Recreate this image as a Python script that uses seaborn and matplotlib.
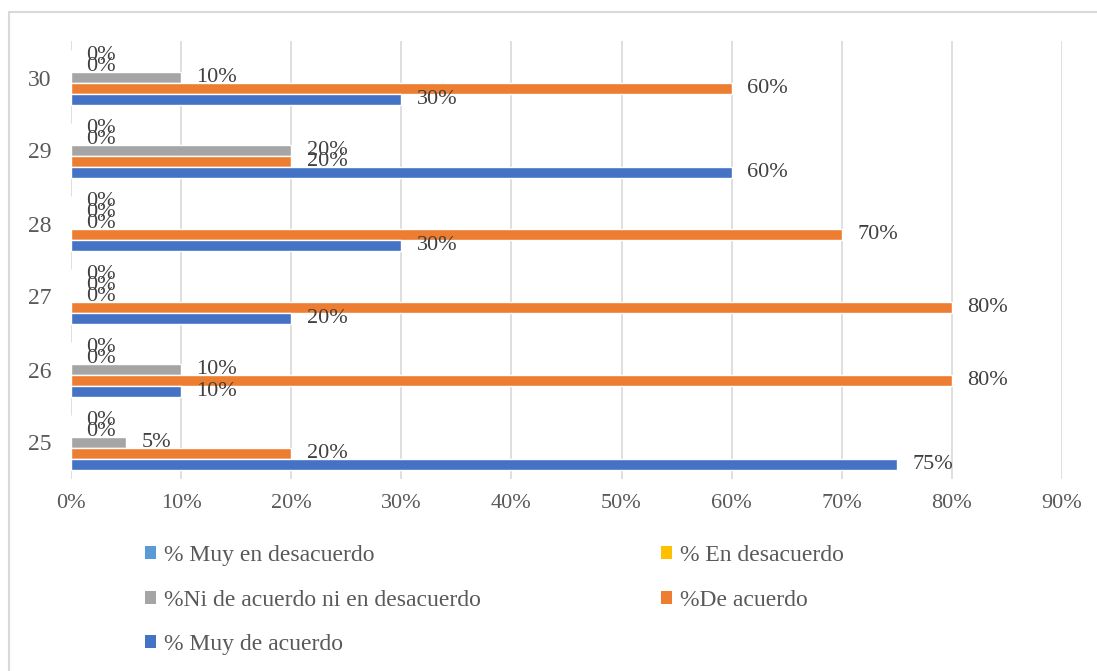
import matplotlib

matplotlib.use("Agg")
import matplotlib.pyplot as plt
import pandas as pd
import seaborn as sns
from matplotlib.patches import Patch, Rectangle

# survey items (y axis) and the share of answers per option, in percent
ITEMS = ["25", "26", "27", "28", "29", "30"]
MUY_EN_DESACUERDO = [0, 0, 0, 0, 0, 0]
EN_DESACUERDO = [0, 0, 0, 0, 0, 0]
NI_DE_ACUERDO = [5, 10, 0, 0, 20, 10]
DE_ACUERDO = [20, 80, 80, 70, 20, 60]
MUY_DE_ACUERDO = [75, 10, 20, 30, 60, 30]

SERIES = [
    "% Muy en desacuerdo",
    "% En desacuerdo",
    "%Ni de acuerdo ni en desacuerdo",
    "%De acuerdo",
    "% Muy de acuerdo",
]
COLORS = ["#5B9BD5", "#FFC000", "#A5A5A5", "#ED7D31", "#4472C4"]
X_TICKS = list(range(0, 91, 10))

TEXT_COLOR = "#595959"
GRID_COLOR = "#D9D9D9"


def build_frame() -> pd.DataFrame:
    wide = pd.DataFrame(
        {
            "item": ITEMS,
            SERIES[0]: MUY_EN_DESACUERDO,
            SERIES[1]: EN_DESACUERDO,
            SERIES[2]: NI_DE_ACUERDO,
            SERIES[3]: DE_ACUERDO,
            SERIES[4]: MUY_DE_ACUERDO,
        }
    )
    return wide.melt(id_vars="item", var_name="serie", value_name="pct")


def main() -> None:
    sns.set_theme(style="white")
    plt.rcParams["font.family"] = ["Liberation Serif", "DejaVu Serif"]

    df = build_frame()
    fig = plt.figure(figsize=(10.97, 6.71), dpi=100)
    ax = fig.add_axes([71 / 1097, 1 - 479 / 671, (1062 - 71) / 1097, (479 - 41) / 671])

    sns.barplot(
        data=df,
        x="pct",
        y="item",
        hue="serie",
        order=ITEMS[::-1],
        hue_order=SERIES,
        palette=COLORS,
        orient="h",
        width=0.75,
        saturation=1,
        errorbar=None,
        legend=False,
        ax=ax,
    )

    for container in ax.containers:
        ax.bar_label(
            container,
            labels=[f"{v:g}%" for v in container.datavalues],
            padding=11,
            fontsize=16,
            color="#404040",
        )

    ax.set_xlim(0, 90)
    ax.set_ylim(5.5, -0.5)
    ax.set_xticks(X_TICKS)
    ax.set_xticklabels([f"{t}%" for t in X_TICKS])
    ax.set_xlabel("")
    ax.set_ylabel("")
    ax.tick_params(axis="x", length=0, pad=11, labelsize=16, labelcolor=TEXT_COLOR)
    ax.tick_params(axis="y", length=0, pad=14, labelsize=17, labelcolor=TEXT_COLOR)
    ax.grid(axis="x", color=GRID_COLOR, linewidth=1.2)
    ax.grid(axis="y", visible=False)
    ax.set_axisbelow(True)
    for spine in ax.spines.values():
        spine.set_visible(False)

    # legend: two columns, filled column by column
    handles = [Patch(facecolor=c, edgecolor="none") for c in COLORS]
    order = [0, 2, 4, 1, 3]
    fig.legend(
        [handles[i] for i in order],
        [SERIES[i] for i in order],
        loc="upper left",
        bbox_to_anchor=(145 / 1097, 1 - 545 / 671),
        ncol=2,
        frameon=False,
        fontsize=17,
        labelcolor=TEXT_COLOR,
        handlelength=0.47,
        handleheight=0.47,
        handletextpad=0.35,
        columnspacing=7.6,
        labelspacing=1.0,
        borderpad=0,
        borderaxespad=0,
    )

    # thin frame around the chart area, as in the original export
    fig.add_artist(
        Rectangle(
            (9 / 1097, -0.1),
            1.2,
            1.1 - 12 / 671,
            transform=fig.transFigure,
            fill=False,
            edgecolor=GRID_COLOR,
            linewidth=1.5,
        )
    )

    fig.savefig("out.png", dpi=100)
    plt.close(fig)


if __name__ == "__main__":
    main()
